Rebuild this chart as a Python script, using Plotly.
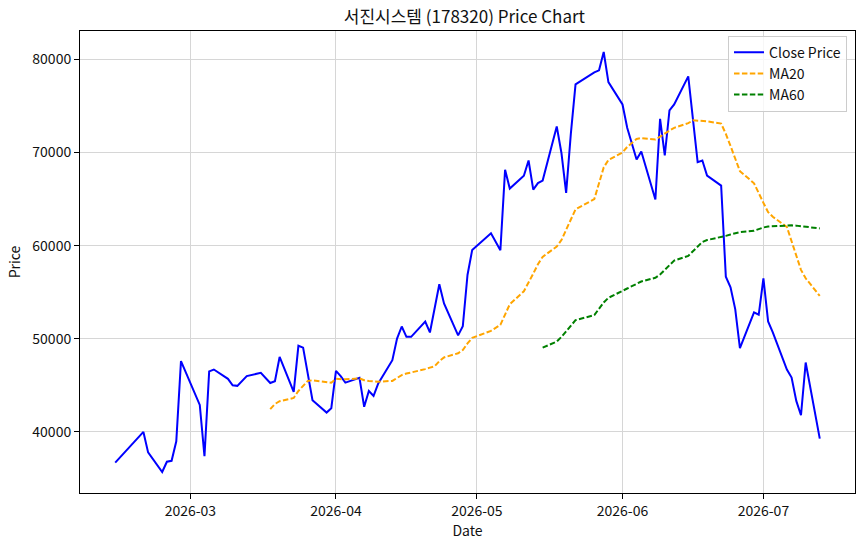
import pandas as pd
import plotly.graph_objects as go

# Korean trading days (weekdays minus market holidays)
holidays = ["2026-02-16", "2026-02-17", "2026-02-18", "2026-03-02",
            "2026-05-01", "2026-05-05", "2026-05-25", "2026-06-03"]
all_days = pd.bdate_range("2026-02-13", "2026-07-13")
dates = [d for d in all_days if d.strftime("%Y-%m-%d") not in holidays]

close = [
    36700, 40000, 37800, 35700, 36800, 36900, 39000, 47600,
    42900, 37400, 46500, 46700, 45700, 45000, 44950, 45500, 46000, 46350,
    45750, 45250, 45450, 48050, 44300, 49250, 49050, 46200, 43400, 42080, 42550,
    46550, 46000, 45300, 45800, 42700, 44400, 43870, 45200, 47700, 50030,
    51320, 50210, 50210, 51850, 50680, 53300, 55850, 53800, 50370, 51350,
    56850, 59540,
    61320, 59500, 68140, 66130, 67500, 69140, 66020, 66720, 66990, 72800,
    69950, 65670, 72000, 77310, 78600, 78820, 80790, 77560,
    75160, 72650, 69250, 70110, 64950, 73620, 69680, 74520, 75160, 78170,
    73500, 68960, 69140, 67530, 66450, 56670, 55520, 53190, 49000, 52830, 52580,
    56480, 51860, 50680, 46700, 45840, 43330, 41790, 47450, 39280,
]

ma20 = [
    42450, 43000, 43300, 43650, 44400, 45000, 45480, 45550, 45300, 45280,
    45700, 45700, 45650, 45750, 45550, 45480, 45420, 45400, 45480, 45770,
    46100, 46270, 46380, 46740, 46900, 47050, 47600, 48000, 48450, 48800,
    49500, 50100, 50850, 51500, 52600, 53700, 55100, 56000, 57000, 58000,
    58800, 59900, 60600, 61700, 62800, 63900, 65000, 66700, 68400, 69200,
    70000, 70600, 71450, 71550, 71400, 71700, 72050, 72350, 72650, 73150,
    73450, 73400, 73350, 73350, 73100, 72000, 70700, 69300, 68000, 66700,
    65600, 64600, 63600, 63100, 62000, 60500, 58960, 57400, 56500, 54600,
]

ma60 = [
    49050, 49700, 50200, 50800, 51400, 52000, 52550, 53200, 53900, 54400,
    55100, 55400, 55900, 56150, 56550, 56900, 57400, 57950, 58400, 58900,
    59400, 60000, 60400, 60600, 60900, 61050, 61200, 61350, 61450, 61600,
    61800, 61950, 62050, 62080, 62180, 62180, 62150, 62100, 62050, 61850,
]

month_ticks = ["2026-03-01", "2026-04-01", "2026-05-01", "2026-06-01", "2026-07-01"]
y_ticks = [40000, 50000, 60000, 70000, 80000]

FONT = "Noto Sans CJK KR, Noto Sans, sans-serif"

fig = go.Figure()
fig.add_trace(go.Scatter(x=dates, y=close, mode="lines", name="Close Price",
                         line=dict(color="#0000ff", width=2)))
fig.add_trace(go.Scatter(x=dates[len(dates) - len(ma20):], y=ma20, mode="lines", name="MA20",
                         line=dict(color="#ffa500", width=2, dash="5.5px,2.4px")))
fig.add_trace(go.Scatter(x=dates[len(dates) - len(ma60):], y=ma60, mode="lines", name="MA60",
                         line=dict(color="#008000", width=2, dash="5.5px,2.4px")))

axis_common = dict(showline=True, mirror=True, linecolor="black", linewidth=1,
                   ticks="outside", ticklen=5, tickcolor="black", tickwidth=1,
                   showgrid=True, gridcolor="#d6d6d6", gridwidth=1, zeroline=False,
                   tickfont=dict(family=FONT, size=14, color="#111111"))

fig.update_layout(
    width=864, height=546,
    margin=dict(l=80, r=9, t=31, b=53),
    paper_bgcolor="white", plot_bgcolor="white",
    font=dict(family=FONT, size=14, color="#111111"),
    title=dict(text="서진시스템 (178320) Price Chart", x=0.5375, xanchor="center",
               y=1 - 17 / 546, yanchor="middle",
               font=dict(family=FONT, size=17, color="#111111")),
    showlegend=True,
    legend=dict(x=0.9897, y=0.99, xanchor="right", yanchor="top",
                bgcolor="rgba(255,255,255,0.8)", bordercolor="#cccccc", borderwidth=1,
                font=dict(family=FONT, size=14, color="#111111"),
                tracegroupgap=0, itemwidth=30),
)
fig.update_xaxes(type="date", range=["2026-02-05 12:00", "2026-07-20 12:00"],
                 tickvals=month_ticks, tickformat="%Y-%m",
                 title=dict(text="Date", standoff=6, font=dict(family=FONT, size=14)),
                 **axis_common)
fig.update_yaxes(range=[33445, 83045], tickvals=y_ticks, tickformat="d",
                 title=dict(text="Price", standoff=8, font=dict(family=FONT, size=14)),
                 **axis_common)

fig.write_html("out.html")
